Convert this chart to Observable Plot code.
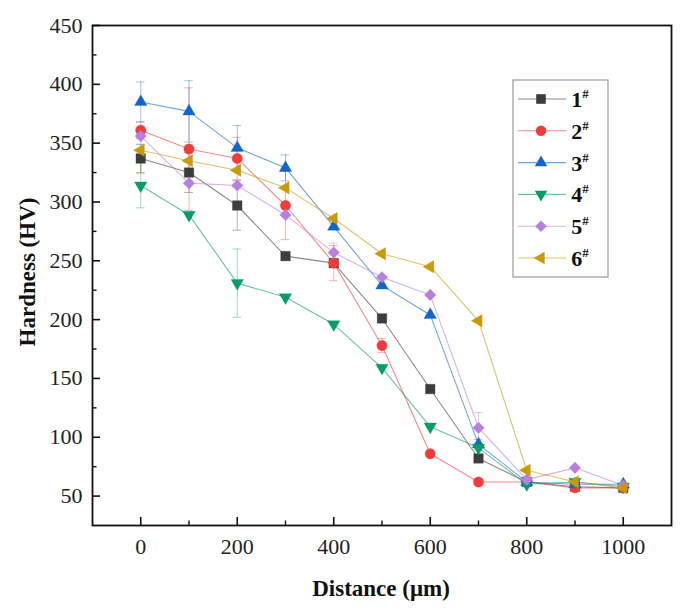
<!DOCTYPE html>
<html><head><meta charset="utf-8">
<script src="https://cdn.jsdelivr.net/npm/d3@7"></script>
<script src="https://cdn.jsdelivr.net/npm/@observablehq/plot@0.6"></script>
<style>body{margin:0;background:#fff}#chart{width:681px;height:616px}
svg text{font-family:'Liberation Serif','Times New Roman',serif !important}</style>
</head><body><div id="chart"></div>
<script>
const distance = [0, 100, 200, 300, 400, 500, 600, 700, 800, 900, 1000];
const seriesNames = ["1", "2", "3", "4", "5", "6"];
const hv1 = [337, 325, 297, 254, 248, 201, 141, 82, 62, 58, 57];
const hv2 = [361, 345, 337, 297, 248, 178, 86, 62, 62, 57, 57];
const hv3 = [385, 377, 346, 329, 279, 229, 204, 94, 62, 60, 60];
const hv4 = [314, 289, 231, 219, 196, 159, 109, 91, 60, 62, 58];
const hv5 = [356, 316, 314, 289, 257, 236, 221, 108, 64, 74, 59];
const hv6 = [344, 335, 327, 312, 286, 256, 245, 199, 72, 62, 57];
const err1 = [12, 17, 21, 0, 0, 0, 0, 0, 0, 0, 0];
const err2 = [7, 52, 18, 29, 15, 6, 0, 0, 0, 0, 0];
const err3 = [17, 26, 19, 11, 0, 0, 0, 4, 0, 0, 0];
const err4 = [19, 0, 29, 0, 0, 0, 0, 0, 0, 0, 0];
const err5 = [0, 0, 0, 0, 8, 0, 0, 13, 0, 0, 0];
const err6 = [20, 0, 0, 0, 0, 0, 0, 0, 0, 0, 0];
const yTicks = [50, 100, 150, 200, 250, 300, 350, 400, 450];
const yMinor = [75, 125, 175, 225, 275, 325, 375, 425];
const xTicks = [0, 200, 400, 600, 800, 1000];
const xMinor = [100, 300, 500, 700, 900];
const colors = ["#3d3d3d", "#f23c3c", "#1266c9", "#069b6b", "#b77fe0", "#c99a08"];

const allHV = [hv1, hv2, hv3, hv4, hv5, hv6];
const allErr = [err1, err2, err3, err4, err5, err6];

function makeSymbol(kind) {
  return {
    draw(ctx, size) {
      const k = Math.sqrt(size / (Math.PI * 25));
      if (kind === "circle") {
        const r = 5.2 * k; ctx.moveTo(r, 0); ctx.arc(0, 0, r, 0, 2 * Math.PI); return;
      }
      if (kind === "square") {
        const h = 4.8 * k; ctx.moveTo(-h, -h); ctx.lineTo(h, -h); ctx.lineTo(h, h); ctx.lineTo(-h, h); ctx.closePath(); return;
      }
      if (kind === "diamond") {
        const h = 5.8 * k; ctx.moveTo(0, -h); ctx.lineTo(h, 0); ctx.lineTo(0, h); ctx.lineTo(-h, 0); ctx.closePath(); return;
      }
      const a = 12.5 * k, R = a / Math.sqrt(3);
      const ang = kind === "up" ? -Math.PI / 2 : kind === "down" ? Math.PI / 2 : Math.PI;
      for (let i = 0; i < 3; i++) {
        const t = ang + i * 2 * Math.PI / 3;
        const px = R * Math.cos(t), py = R * Math.sin(t);
        if (i === 0) ctx.moveTo(px, py); else ctx.lineTo(px, py);
      }
      ctx.closePath();
    }
  };
}
const symbols = ["square", "circle", "up", "down", "diamond", "left"].map(makeSymbol);

const rows = [];
seriesNames.forEach((s, i) => distance.forEach((x, j) => rows.push({series: s, idx: i, x, y: allHV[i][j], e: allErr[i][j]})));
const errRows = rows.filter(d => d.e > 0);

const serif = "'Liberation Serif', 'Times New Roman', serif";
const W = 681, H = 616, mL = 92, mR = 10, mT = 25, mB = 91;
const plotW = W - mL - mR, plotH = H - mT - mB;

const marks = [];
seriesNames.forEach((s, i) => {
  marks.push(Plot.line(rows.filter(d => d.idx === i), {x: "x", y: "y", stroke: colors[i], strokeWidth: 1.1, strokeOpacity: 0.6}));
});
seriesNames.forEach((s, i) => {
  const er = errRows.filter(d => d.idx === i);
  marks.push(Plot.ruleX(er, {x: "x", y1: d => d.y - d.e, y2: d => d.y + d.e, stroke: colors[i], strokeOpacity: 0.4, strokeWidth: 1}));
  marks.push(Plot.ruleY(er, {y: d => d.y + d.e, x1: d => d.x - 9, x2: d => d.x + 9, stroke: colors[i], strokeOpacity: 0.4, strokeWidth: 1}));
  marks.push(Plot.ruleY(er, {y: d => d.y - d.e, x1: d => d.x - 9, x2: d => d.x + 9, stroke: colors[i], strokeOpacity: 0.4, strokeWidth: 1}));
});
seriesNames.forEach((s, i) => {
  marks.push(Plot.dot(rows.filter(d => d.idx === i), {x: "x", y: "y", symbol: symbols[i], r: 5, fill: colors[i], stroke: colors[i], strokeOpacity: 0.5, strokeWidth: 0.6}));
});
// inward ticks
marks.push(Plot.tickY(yTicks, {y: d => d, insetRight: plotW - 8, stroke: "#111", strokeWidth: 1.6}));
marks.push(Plot.tickY(yMinor, {y: d => d, insetRight: plotW - 4.5, stroke: "#111", strokeWidth: 1.4}));
marks.push(Plot.tickX(xTicks, {x: d => d, insetTop: plotH - 8, stroke: "#111", strokeWidth: 1.6}));
marks.push(Plot.tickX(xMinor, {x: d => d, insetTop: plotH - 4.5, stroke: "#111", strokeWidth: 1.4}));
marks.push(Plot.axisY(yTicks, {tickSize: 0, tickPadding: 10, fontSize: 22, fontFamily: serif, fill: "#222", label: null, tickFormat: d => String(d)}));
marks.push(Plot.axisX(xTicks, {tickSize: 0, tickPadding: 13, fontSize: 22, fontFamily: serif, fill: "#222", label: null, tickFormat: d => String(d)}));
marks.push(Plot.frame({stroke: "#111", strokeWidth: 1.8}));

const chart = Plot.plot({
  width: W, height: H,
  marginLeft: mL, marginRight: mR, marginTop: mT, marginBottom: mB,
  x: {domain: [-100, 1100]},
  y: {domain: [25, 450]},
  style: {background: "#fff", fontFamily: serif},
  marks
});
document.getElementById("chart").appendChild(chart);

const svg = d3.select(chart);
// axis titles
svg.append("text").attr("transform", "translate(30,272) rotate(-90)")
  .attr("text-anchor", "middle").attr("dominant-baseline", "middle")
  .attr("font-family", serif).attr("font-weight", "bold").attr("font-size", 23).attr("fill", "#111")
  .text("Hardness (HV)");
svg.append("text").attr("x", 381).attr("y", 591)
  .attr("text-anchor", "middle").attr("dominant-baseline", "middle")
  .attr("font-family", serif).attr("font-weight", "bold").attr("font-size", 23).attr("fill", "#111")
  .text("Distance (\u03bcm)");

// legend
const lg = svg.append("g");
lg.append("rect").attr("x", 513).attr("y", 80).attr("width", 95).attr("height", 197)
  .attr("fill", "#fff").attr("stroke", "#9a9a9a").attr("stroke-width", 1.2);
seriesNames.forEach((s, i) => {
  const cy = 99 + i * 31.8;
  lg.append("line").attr("x1", 518).attr("x2", 566).attr("y1", cy).attr("y2", cy)
    .attr("stroke", colors[i]).attr("stroke-opacity", 0.6).attr("stroke-width", 1.1);
  lg.append("path").attr("transform", `translate(541,${cy})`)
    .attr("d", d3.symbol().type(symbols[i]).size(Math.PI * 25)())
    .attr("fill", colors[i]);
  const t = lg.append("text").attr("x", 580).attr("y", cy + 8)
    .attr("font-family", serif).attr("font-weight", "bold").attr("font-size", 22).attr("fill", "#111");
  t.append("tspan").text(s);
  t.append("tspan").attr("font-size", 13).attr("dy", -9).text("#");
});
</script></body></html>
